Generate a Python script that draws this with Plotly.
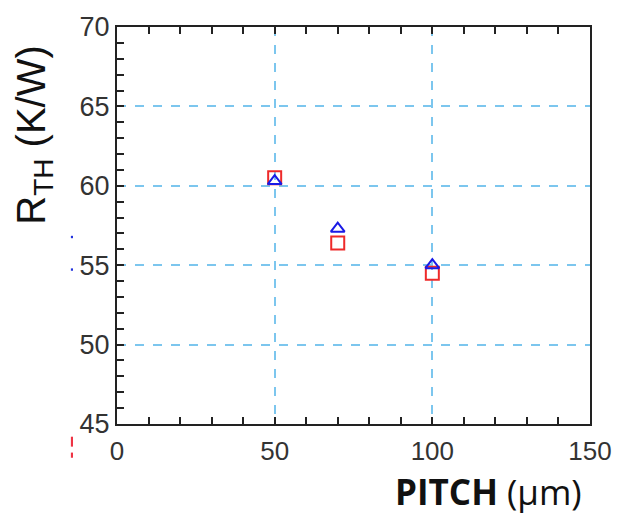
import plotly.graph_objects as go

pitch = [50, 70, 100]
rth_square = [60.5, 56.4, 54.5]
rth_triangle = [60.3, 57.3, 55.0]

x_ticks = [0, 50, 100, 150]
y_ticks = [45, 50, 55, 60, 65, 70]

fig = go.Figure()
fig.add_trace(go.Scatter(x=pitch, y=rth_square, mode="markers",
                         marker=dict(symbol="square-open", size=13, color="#ee2a2a",
                                     line=dict(width=2, color="#ee2a2a")),
                         showlegend=False, cliponaxis=False))
fig.add_trace(go.Scatter(x=pitch, y=rth_triangle, mode="markers",
                         marker=dict(symbol="triangle-up-open", size=12, color="#1a1ae6",
                                     line=dict(width=2, color="#1a1ae6")),
                         showlegend=False, cliponaxis=False))

grid_col = "#7cc6ee"
fig.update_xaxes(range=[0, 150], tickvals=x_ticks, ticktext=[str(v) for v in x_ticks],
                 showline=True, linecolor="#222", linewidth=2, mirror="ticks",
                 ticks="inside", ticklen=7, tickwidth=1.5, tickcolor="#222",
                 minor=dict(dtick=10, ticks="inside", ticklen=7, tickwidth=1.5, tickcolor="#222", showgrid=False),
                 showgrid=True, gridcolor=grid_col, gridwidth=1.5, griddash="dash",
                 zeroline=False, ticklabelstandoff=3,
                 tickfont=dict(family="Liberation Sans, Arial", size=26, color="#333"))
fig.update_yaxes(range=[45, 70], tickvals=y_ticks, ticktext=[str(v) for v in y_ticks],
                 showline=True, linecolor="#222", linewidth=2, mirror=True,
                 ticks="inside", ticklen=7, tickwidth=1.5, tickcolor="#222",
                 minor=dict(dtick=1, ticks="inside", ticklen=7, tickwidth=1.5, tickcolor="#222", showgrid=False),
                 showgrid=True, gridcolor=grid_col, gridwidth=1.5, griddash="dash",
                 zeroline=False,
                 tickfont=dict(family="Liberation Sans, Arial", size=27, color="#333"))

fig.add_annotation(text="R<sub>TH</sub> (K/W)", xref="paper", yref="paper",
                   x=-0.176, y=0.728, xanchor="center", yanchor="middle", textangle=-90,
                   showarrow=False, font=dict(family="Liberation Sans, Arial", size=40, color="#111"))
fig.add_annotation(text="<b>PITCH</b> (μm)", xref="paper", yref="paper",
                   x=0.985, y=-0.17, xanchor="right", yanchor="middle", borderpad=0,
                   showarrow=False, font=dict(family="Open Sans, Lato", size=35, color="#111"))

# small stray marks at the left edge of the reference image
fig.add_shape(type="rect", xref="paper", yref="paper", x0=-0.0975, x1=-0.093, y0=0.468, y1=0.474,
              fillcolor="#2233dd", line=dict(width=0))
fig.add_shape(type="rect", xref="paper", yref="paper", x0=-0.0975, x1=-0.093, y0=0.386, y1=0.392,
              fillcolor="#2233dd", line=dict(width=0))
fig.add_shape(type="rect", xref="paper", yref="paper", x0=-0.0975, x1=-0.093, y0=-0.057, y1=-0.032,
              fillcolor="#ee3344", line=dict(width=0))
fig.add_shape(type="rect", xref="paper", yref="paper", x0=-0.0975, x1=-0.093, y0=-0.085, y1=-0.072,
              fillcolor="#ee3344", line=dict(width=0))

fig.update_layout(width=624, height=516, margin=dict(l=117, r=25, t=23, b=92),
                  plot_bgcolor="white", paper_bgcolor="white")

fig.write_html("out.html")
